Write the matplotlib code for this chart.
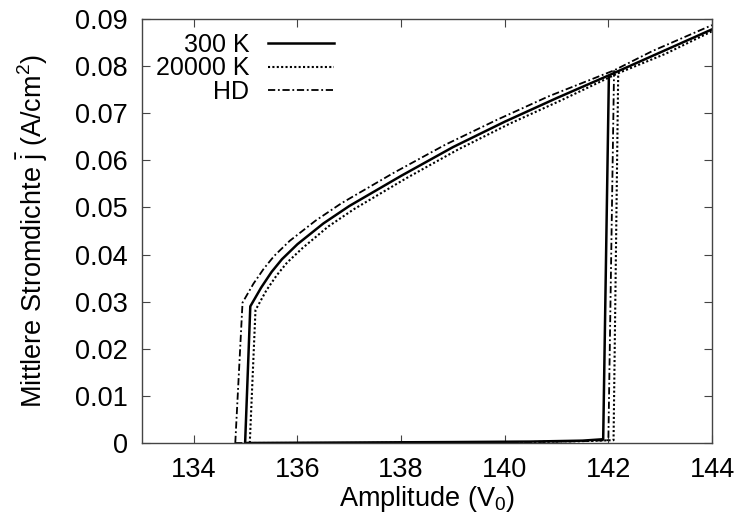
import matplotlib
matplotlib.use("Agg")
import matplotlib.pyplot as plt

plt.rcParams['font.family'] = ['Liberation Sans', 'DejaVu Sans']
plt.rcParams['mathtext.fontset'] = 'custom'
plt.rcParams['mathtext.rm'] = 'Liberation Sans'
plt.rcParams['mathtext.it'] = 'Liberation Sans'

# upper branch (drop at the left end, then rising to 144)
v_hi_300 = [134.99, 135.09, 135.3, 135.5, 135.7, 136.0, 136.5, 137.0, 138.0, 139.0, 140.0, 141.0, 142.0, 143.0, 144.0]
j_hi_300 = [0.0, 0.0290, 0.0330, 0.0363, 0.0390, 0.0422, 0.0466, 0.0503, 0.0567, 0.0628, 0.0682, 0.0732, 0.0780, 0.0829, 0.0878]

v_hi_20k = [135.08, 135.19, 135.4, 135.6, 135.8, 136.1, 136.6, 137.1, 138.1, 139.1, 140.1, 141.1, 142.19, 143.1, 144.0]
j_hi_20k = [0.0, 0.0282, 0.0324, 0.0356, 0.0383, 0.0414, 0.0460, 0.0497, 0.0562, 0.0623, 0.0678, 0.0728, 0.0785, 0.0826, 0.0874]

v_hi_hd = [134.80, 134.94, 135.15, 135.35, 135.55, 135.85, 136.35, 136.85, 137.85, 138.85, 139.85, 140.85, 142.11, 142.85, 144.0]
j_hi_hd = [0.0, 0.0298, 0.0338, 0.0370, 0.0397, 0.0429, 0.0472, 0.0509, 0.0573, 0.0633, 0.0686, 0.0736, 0.0791, 0.0832, 0.0887]

# lower branch (near zero, then the jump up near 142)
v_lo_300 = [134.99, 137.0, 139.0, 140.5, 141.5, 141.90, 142.01]
j_lo_300 = [0.0, 0.0001, 0.0002, 0.0003, 0.0005, 0.0008, 0.0778]

v_lo_20k = [135.08, 137.0, 139.0, 140.5, 141.5, 142.10, 142.19]
j_lo_20k = [0.0, 0.0, 0.0001, 0.0002, 0.0004, 0.0006, 0.0785]

v_lo_hd = [134.80, 137.0, 139.0, 140.5, 141.5, 142.00, 142.11]
j_lo_hd = [0.0, 0.0, 0.0001, 0.0002, 0.0004, 0.0006, 0.0791]

labels = ["300 K", "20000 K", "HD"]

fig = plt.figure(figsize=(7.39, 5.18), dpi=100)
ax = fig.add_axes([142 / 739, 75 / 518, 570 / 739, 424 / 518])

sty_300 = dict(color="black", lw=1.8, ls="-")
sty_20k = dict(color="black", lw=1.5, ls=(0, (1, 1.1)))
sty_hd = dict(color="black", lw=1.3, ls=(0, (4, 1.5, 1, 1.5)))

ax.plot(v_hi_300, j_hi_300, label=labels[0], **sty_300)
ax.plot(v_lo_300, j_lo_300, **sty_300)
ax.plot(v_hi_20k, j_hi_20k, label=labels[1], **sty_20k)
ax.plot(v_lo_20k, j_lo_20k, **sty_20k)
ax.plot(v_hi_hd, j_hi_hd, label=labels[2], **sty_hd)
ax.plot(v_lo_hd, j_lo_hd, **sty_hd)

ax.set_xlim(133, 144)
ax.set_ylim(0, 0.09)
ax.set_xticks([134, 136, 138, 140, 142, 144])
ax.set_yticks([0, 0.01, 0.02, 0.03, 0.04, 0.05, 0.06, 0.07, 0.08, 0.09])
ax.set_yticklabels(["0", "0.01", "0.02", "0.03", "0.04", "0.05", "0.06", "0.07", "0.08", "0.09"])
ax.tick_params(direction="in", length=6, width=0.8, top=True, right=True,
               labelsize=19.5, color="#444444", pad=10)
for sp in ax.spines.values():
    sp.set_color("#444444")
    sp.set_linewidth(1.0)

ax.set_xlabel(r"Amplitude (V$_0$)", fontsize=19.5, labelpad=1)
ax.set_ylabel(r"Mittlere Stromdichte $\bar{\mathrm{j}}$ (A/cm$^2$)", fontsize=19.5, labelpad=18)

ax.legend(loc="upper left", bbox_to_anchor=(0.0, 1.0), frameon=False, markerfirst=False,
          fontsize=18, handlelength=2.64, handletextpad=0.76, labelspacing=-0.02,
          borderaxespad=0.2, borderpad=0.35)

fig.savefig("out.png", dpi=100)
